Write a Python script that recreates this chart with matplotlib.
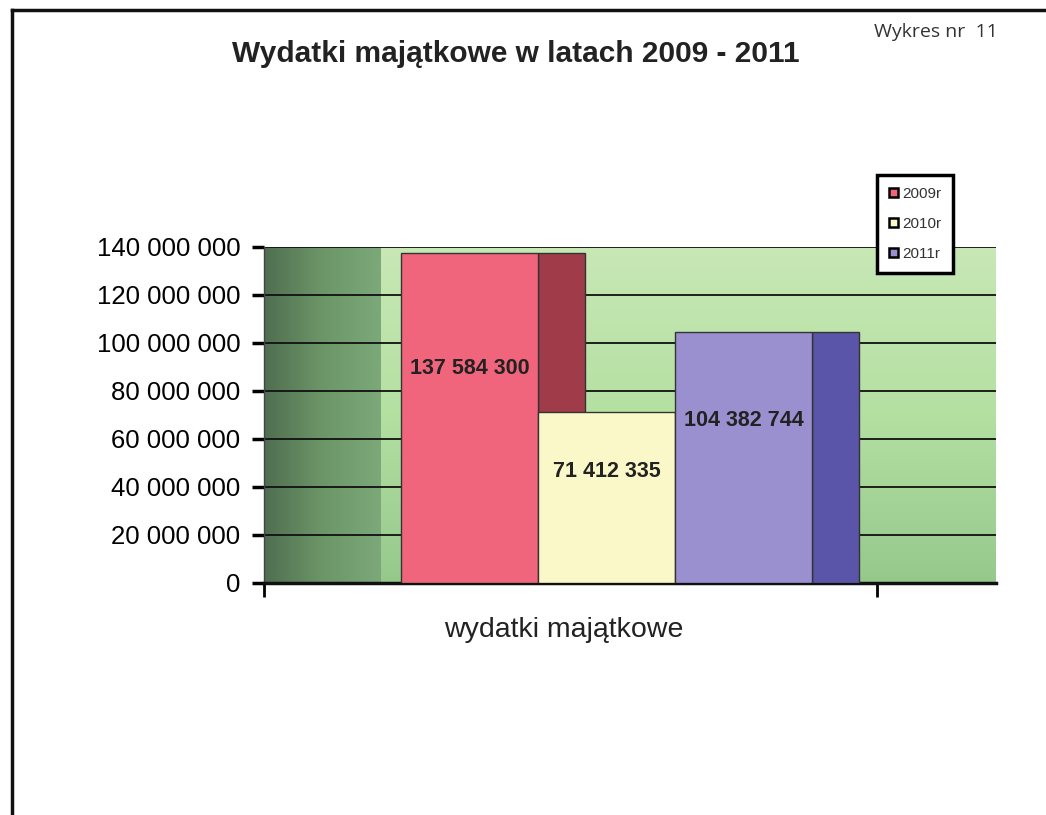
import numpy as np
import matplotlib
matplotlib.use("Agg")
import matplotlib.pyplot as plt
from matplotlib.patches import Patch
from matplotlib.colors import LinearSegmentedColormap

# data
years = ["2009r", "2010r", "2011r"]
values = [137584300, 71412335, 104382744]
labels = ["137 584 300", "71 412 335", "104 382 744"]
front_colors = ["#f0647c", "#faf8c8", "#9a90d0"]
side_colors = ["#a03c4a", "#e8e6b0", "#5a55a8"]
yticks = [0, 20000000, 40000000, 60000000, 80000000, 100000000, 120000000, 140000000]
ytick_labels = ["0", "20 000 000", "40 000 000", "60 000 000", "80 000 000",
                "100 000 000", "120 000 000", "140 000 000"]

plt.rcParams["font.family"] = ["Liberation Sans", "DejaVu Sans"]

fig = plt.figure(figsize=(10.46, 8.15), dpi=100)
ax = fig.add_axes([0.2524, 0.2847, 0.6998, 0.4123])

# x axis in "plot units" (0..732), walls and bars laid out on it
x_max = 732
wall_w = 117
bar_w = 137
depth = 47
first = 137
cat_end = 613
ymax = 140000000

ax.set_xlim(0, x_max)
ax.set_ylim(0, ymax)

# back wall (vertical gradient) and side wall (horizontal gradient)
back = LinearSegmentedColormap.from_list("back", ["#96c88c", "#b4e0a2", "#c8e8b6"])
grad_v = np.linspace(0, 1, 256).reshape(-1, 1)
ax.imshow(grad_v, extent=[wall_w, x_max, 0, ymax], origin="lower", cmap=back,
          aspect="auto", zorder=0)
side = LinearSegmentedColormap.from_list("side", ["#4f6e50", "#6c9668", "#7ca87a"])
grad_h = np.linspace(0, 1, 256).reshape(1, -1)
ax.imshow(grad_h, extent=[0, wall_w, 0, ymax], origin="lower", cmap=side,
          aspect="auto", zorder=0)

# gridlines
for t in yticks[1:]:
    ax.axhline(t, color="#111111", lw=1.3, zorder=1)

# bars: side face first, then front face, each later bar on top
for i, v in enumerate(values):
    left = first + i * bar_w
    ax.bar(left + bar_w, v, width=depth, align="edge", color=side_colors[i],
           edgecolor="#333333", linewidth=1.0, zorder=2 + 2 * i)
    ax.bar(left, v, width=bar_w, align="edge", color=front_colors[i],
           edgecolor="#333333", linewidth=1.0, zorder=3 + 2 * i)
    ax.text(left + bar_w / 2, v * 0.65, labels[i], ha="center", va="center",
            fontsize=15.5, fontweight="bold", color="#222222", zorder=20)

# axes styling
ax.set_yticks(yticks)
ax.set_yticklabels(ytick_labels, fontsize=18.5)
ax.tick_params(axis="y", direction="out", length=9, width=2.5, pad=8)
ax.set_xticks([0, cat_end])
ax.set_xticklabels(["", ""])
ax.tick_params(axis="x", direction="out", length=10, width=2)
ax.spines["top"].set_visible(False)
ax.spines["right"].set_visible(False)
ax.spines["left"].set_color("#444444")
ax.spines["left"].set_linewidth(1)
ax.spines["bottom"].set_color("#111111")
ax.spines["bottom"].set_linewidth(2.5)
ax.set_xlabel("wydatki majątkowe", fontsize=20.5, color="#222222")
ax.xaxis.set_label_coords(0.41, -0.10)

# legend
handles = [Patch(facecolor=c, edgecolor="black", linewidth=1.8) for c in front_colors]
leg = fig.legend(handles, years, loc="upper left", bbox_to_anchor=(0.831, 0.795),
                 fontsize=11, handlelength=0.6, handleheight=0.6,
                 handletextpad=0.25, labelspacing=1.05, borderpad=0.8,
                 fancybox=False, framealpha=1)
leg.get_frame().set_edgecolor("black")
leg.get_frame().set_linewidth(2.5)
for t in leg.get_texts():
    t.set_color("#333333")

# titles
fig.text(0.493, 0.934, "Wydatki majątkowe w latach 2009 - 2011", ha="center",
         va="center", fontsize=21.5, fontweight="bold", color="#222222")
fig.text(0.895, 0.961, "Wykres nr  11", ha="center", va="center",
         fontsize=14, color="#333333", family=["Open Sans", "DejaVu Sans"])

# page frame lines
fig.add_artist(plt.Line2D([0.011, 1.0], [0.988, 0.988], color="#111111", lw=2.5))
fig.add_artist(plt.Line2D([0.011, 0.011], [0.0, 0.988], color="#111111", lw=2.5))

fig.savefig("out.png", dpi=100)
